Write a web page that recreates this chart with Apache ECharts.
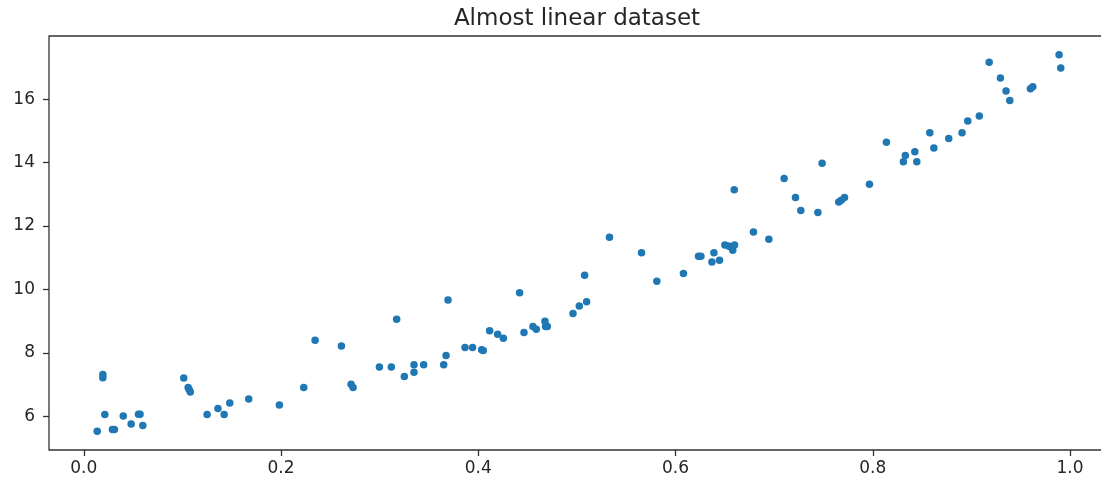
<!DOCTYPE html>
<html>
<head>
<meta charset="utf-8">
<script src="https://cdn.jsdelivr.net/npm/echarts@6/dist/echarts.min.js"></script>
<style>
  html, body { margin: 0; padding: 0; background: #fff; }
  #chart { width: 1101px; height: 486px; }
</style>
</head>
<body>
<div id="chart"></div>
<script>
// values
let xVals = [0.0136, 0.0193, 0.0193, 0.0213, 0.029, 0.031, 0.040, 0.048, 0.0554, 0.057,
	0.0598, 0.1013, 0.1058, 0.1068, 0.108, 0.125, 0.136, 0.1423, 0.148, 0.1672,
	0.1983, 0.223, 0.2345, 0.2612, 0.271, 0.273, 0.2997, 0.3118, 0.3172, 0.325,
	0.3348, 0.3348, 0.3446, 0.3649, 0.3673, 0.3693, 0.3865, 0.3942, 0.4034, 0.405,
	0.4115, 0.4196, 0.4254, 0.4419, 0.4463, 0.4554, 0.4588, 0.4676, 0.4682, 0.470,
	0.496, 0.5024, 0.5098, 0.5078, 0.533, 0.5655, 0.581, 0.608, 0.6233, 0.6257,
	0.6369, 0.6389, 0.6446, 0.650, 0.6537, 0.656, 0.658, 0.6598, 0.6595, 0.679,
	0.6946, 0.7101, 0.7216, 0.727, 0.7443, 0.7486, 0.7655, 0.768, 0.7713, 0.7966,
	0.8138, 0.831, 0.833, 0.8426, 0.8446, 0.8578, 0.8619, 0.877, 0.8905, 0.8963,
	0.908, 0.918, 0.9294, 0.9351, 0.9389, 0.9598, 0.9622, 0.9889, 0.9906];
let yVals = [5.53, 7.32, 7.22, 6.06, 5.59, 5.59, 6.01, 5.76, 6.07, 6.07,
	5.71, 7.21, 6.91, 6.85, 6.77, 6.06, 6.25, 6.06, 6.42, 6.55,
	6.36, 6.91, 8.40, 8.22, 7.01, 6.91, 7.56, 7.56, 9.06, 7.26,
	7.63, 7.39, 7.63, 7.63, 7.92, 9.67, 8.17, 8.17, 8.10, 8.08,
	8.70, 8.59, 8.46, 9.90, 8.64, 8.83, 8.75, 9.00, 8.83, 8.83,
	9.24, 9.48, 9.61, 10.45, 11.65, 11.16, 10.26, 10.50, 11.05, 11.05,
	10.87, 11.16, 10.92, 11.40, 11.37, 11.34, 11.24, 11.40, 13.14, 11.81,
	11.58, 13.50, 12.90, 12.49, 12.43, 13.98, 12.76, 12.81, 12.90, 13.32,
	14.64, 14.03, 14.22, 14.34, 14.03, 14.94, 14.46, 14.76, 14.94, 15.31,
	15.47, 17.16, 16.67, 16.26, 15.96, 16.33, 16.39, 17.40, 16.98];
let xTicks = [0, 0.2, 0.4, 0.6, 0.8, 1.0];
let yTicks = [6, 8, 10, 12, 14, 16];

let points = xVals.map(function(x, i) { return [x, yVals[i]]; });

let chart = echarts.init(document.getElementById("chart"));
let font = "DejaVu Sans";

chart.setOption({
	animation: false,
	title: {
		text: "Almost linear dataset",
		left: 572,
		top: 3,
		textAlign: "center",
		textStyle: { fontFamily: font, fontSize: 23, fontWeight: "normal", color: "#262626" }
	},
	grid: {
		left: 49,
		top: 36,
		width: 1060,
		height: 414,
		outerBoundsMode: "none",
		show: true,
		borderColor: "#333",
		borderWidth: 1.3
	},
	xAxis: {
		type: "value",
		min: -0.0353,
		max: 1.0395,
		splitLine: { show: false },
		axisLine: { show: false, onZero: false },
		axisTick: { show: true, length: 6, customValues: xTicks, lineStyle: { color: "#333", width: 1.3 } },
		axisLabel: {
			customValues: xTicks,
			margin: 10,
			fontFamily: font,
			fontSize: 17,
			color: "#262626",
			formatter: function(v) { return v.toFixed(1); }
		}
	},
	yAxis: {
		type: "value",
		min: 4.94,
		max: 17.99,
		splitLine: { show: false },
		axisLine: { show: false, onZero: false },
		axisTick: { show: true, length: 6, customValues: yTicks, lineStyle: { color: "#333", width: 1.3 } },
		axisLabel: {
			customValues: yTicks,
			margin: 14,
			fontFamily: font,
			fontSize: 17,
			color: "#262626",
			formatter: function(v) { return String(Math.round(v)); }
		}
	},
	series: [{
		type: "scatter",
		data: points,
		symbolSize: 7.5,
		itemStyle: { color: "#1f77b4", opacity: 1 }
	}]
});
</script>
</body>
</html>
